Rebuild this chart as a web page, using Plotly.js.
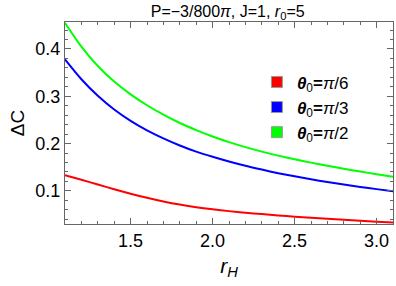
<!DOCTYPE html>
<html>
<head>
<meta charset="utf-8">
<script src="https://cdn.plot.ly/plotly-3.0.1.min.js"></script>
<style>html,body{margin:0;padding:0;background:#fff;}#chart{width:396px;height:286px;}</style>
</head>
<body>
<div id="chart"></div>
<script>
const rH = [1.1, 1.2, 1.3, 1.4, 1.5, 1.6, 1.7, 1.8, 1.9, 2.0, 2.1, 2.2, 2.3, 2.4, 2.5, 2.6, 2.7, 2.8, 2.9, 3.0, 3.1];
const dcPi6 = [0.133, 0.1235, 0.1135, 0.1035, 0.094, 0.0853, 0.0776, 0.071, 0.0655, 0.061, 0.0572, 0.0539, 0.0509, 0.0481, 0.0455, 0.04315, 0.04095, 0.0389, 0.03692, 0.035, 0.0332];
const dcPi3 = [0.378, 0.336, 0.301, 0.272, 0.248, 0.228, 0.211, 0.196, 0.183, 0.172, 0.162, 0.153, 0.145, 0.1375, 0.1308, 0.1245, 0.1188, 0.1134, 0.1084, 0.1037, 0.0993];
const dcPi2 = [0.455, 0.405, 0.364, 0.331, 0.304, 0.281, 0.261, 0.2435, 0.2285, 0.215, 0.203, 0.1925, 0.183, 0.1745, 0.1668, 0.1597, 0.1531, 0.1468, 0.1409, 0.1353, 0.1300];
const seriesNames = ['<b><i>θ</i></b><sub>0</sub><b>=</b><i>π</i>/6', '<b><i>θ</i></b><sub>0</sub><b>=</b><i>π</i>/3', '<b><i>θ</i></b><sub>0</sub><b>=</b><i>π</i>/2'];
const colors = ['#ff0000', '#0000ff', '#00ff00'];
const xTicks = [1.5, 2.0, 2.5, 3.0];
const yTicks = [0.1, 0.2, 0.3, 0.4];

const FONT = 'Liberation Sans, Arial, sans-serif';
const ys = [dcPi6, dcPi3, dcPi2];
const traces = [];
ys.forEach((y, i) => {
  traces.push({x: rH, y: y, mode: 'lines', line: {color: colors[i], width: 2, shape: 'spline', smoothing: 0.8}, showlegend: false, hoverinfo: 'skip'});
});
ys.forEach((y, i) => {
  traces.push({x: [null], y: [null], mode: 'markers', name: seriesNames[i],
    marker: {symbol: 'square', size: 11, color: colors[i], line: {color: '#999', width: 1}}});
});

const axisCommon = {
  showline: true, linecolor: '#666', linewidth: 1, mirror: 'allticks',
  ticks: 'inside', ticklen: 6, tickcolor: '#666', showgrid: false, zeroline: false,
  tickfont: {family: FONT, size: 18, color: '#000'}
};

const layout = {
  width: 396, height: 286,
  margin: {l: 65, r: 3, t: 22, b: 62},
  paper_bgcolor: '#fff', plot_bgcolor: '#fff',
  title: {text: 'P=−3/800<i>π</i>, J=1, <i>r</i><sub>0</sub>=5', x: 0.575, xanchor: 'center', y: 0.96, yanchor: 'middle',
    font: {family: FONT, size: 16, color: '#000'}},
  xaxis: Object.assign({}, axisCommon, {
    range: [1.1, 3.1], tickvals: xTicks, ticktext: xTicks.map(v => v.toFixed(1)),
    minor: {dtick: 0.1, tick0: 0, ticks: 'inside', ticklen: 3, tickcolor: '#666'},
    title: {text: '<i>r</i><sub><i>H</i></sub>', standoff: 8, font: {family: FONT, size: 21, color: '#000'}}
  }),
  yaxis: Object.assign({}, axisCommon, {
    range: [0.03, 0.457], tickvals: yTicks, ticktext: yTicks.map(v => v.toFixed(1)),
    minor: {dtick: 0.02, tick0: 0, ticks: 'inside', ticklen: 3, tickcolor: '#666'},
    title: {text: 'ΔC', standoff: 5, font: {family: FONT, size: 19, color: '#000'}}
  }),
  legend: {x: 0.585, y: 0.79, xanchor: 'left', yanchor: 'top', bgcolor: 'rgba(0,0,0,0)',
    font: {family: FONT, size: 17, color: '#000'}, itemwidth: 30, tracegroupgap: 0}
};

Plotly.newPlot('chart', traces, layout, {displayModeBar: false, staticPlot: true});
</script>
</body>
</html>
